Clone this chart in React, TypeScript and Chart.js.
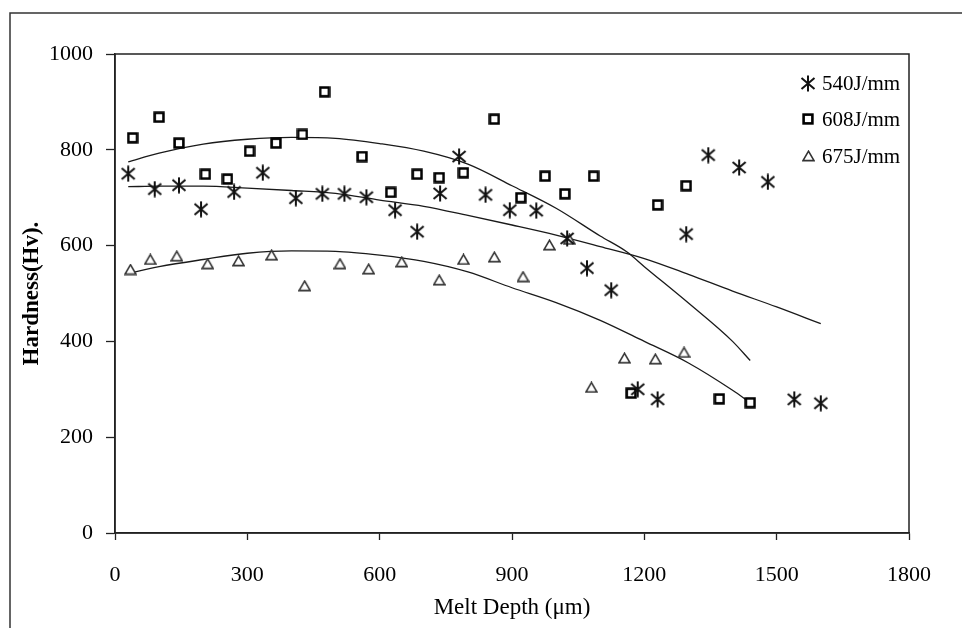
import React, { useEffect, useRef } from 'react';
import { Chart, registerables } from 'chart.js';

Chart.register(...registerables);

const seriesLabels = ['540J/mm', '608J/mm', '675J/mm'];

const depth540 = [30, 90, 145, 195, 270, 335, 410, 470, 520, 570, 635, 685, 737, 780, 840, 895, 955, 1025, 1070, 1125, 1185, 1230, 1295, 1345, 1415, 1480, 1540, 1600];
const hard540 = [750, 718, 726, 676, 712, 752, 699, 708, 708, 701, 674, 629, 709, 786, 706, 674, 673, 615, 553, 507, 300, 279, 624, 789, 763, 733, 279, 271];

const depth608 = [40, 100, 145, 205, 255, 305, 365, 425, 475, 560, 625, 685, 735, 790, 860, 920, 975, 1020, 1085, 1170, 1230, 1295, 1370, 1440];
const hard608 = [825, 868, 814, 749, 739, 797, 814, 832, 921, 786, 711, 749, 742, 752, 864, 700, 745, 708, 745, 292, 685, 725, 280, 272];

const depth675 = [35, 80, 140, 210, 280, 355, 430, 510, 575, 650, 735, 790, 860, 925, 985, 1030, 1080, 1155, 1225, 1290];
const hard675 = [550, 571, 578, 562, 568, 580, 516, 562, 551, 566, 528, 571, 576, 535, 601, 613, 304, 365, 363, 377];

// trend curves
const trendDepth540 = [30, 100, 200, 300, 400, 500, 600, 700, 800, 900, 1000, 1100, 1200, 1300, 1400, 1500, 1600];
const trendHard540 = [723, 724, 724, 720, 715, 709, 695, 682, 663, 643, 622, 598, 573, 540, 505, 472, 437];

const trendDepth608 = [30, 100, 200, 300, 400, 500, 600, 700, 800, 900, 1000, 1100, 1160, 1200, 1300, 1400, 1440];
const trendHard608 = [775, 793, 812, 822, 826, 824, 813, 797, 770, 725, 678, 620, 587, 556, 480, 400, 360];

const trendDepth675 = [30, 100, 200, 300, 400, 500, 600, 700, 800, 900, 1000, 1100, 1200, 1300, 1400, 1440];
const trendHard675 = [542, 556, 571, 584, 589, 588, 580, 567, 545, 512, 481, 444, 400, 355, 298, 272];

const xTicks = [0, 300, 600, 900, 1200, 1500, 1800];
const yTicks = [0, 200, 400, 600, 800, 1000];

const FONT = "'Liberation Serif', 'Times New Roman', serif";

function pts(xs: number[], ys: number[]) {
  return xs.map((x, i) => ({ x, y: ys[i] }));
}

function makeStar(): HTMLCanvasElement {
  const c = document.createElement('canvas');
  c.width = 16; c.height = 17;
  const g = c.getContext('2d')!;
  g.strokeStyle = '#111';
  g.lineWidth = 2;
  g.lineCap = 'butt';
  g.beginPath();
  g.moveTo(8, 0.5); g.lineTo(8, 16.5);
  g.moveTo(1.5, 3); g.lineTo(14.5, 14);
  g.moveTo(14.5, 3); g.lineTo(1.5, 14);
  g.stroke();
  return c;
}

function makeSquare(): HTMLCanvasElement {
  const c = document.createElement('canvas');
  c.width = 12; c.height = 12;
  const g = c.getContext('2d')!;
  g.fillStyle = '#fff';
  g.fillRect(1.5, 1.5, 9, 9);
  g.strokeStyle = '#000';
  g.lineWidth = 2.6;
  g.strokeRect(1.6, 1.6, 8.8, 8.8);
  return c;
}

function makeTriangle(): HTMLCanvasElement {
  const c = document.createElement('canvas');
  c.width = 13; c.height = 12;
  const g = c.getContext('2d')!;
  g.beginPath();
  g.moveTo(6.5, 1.2);
  g.lineTo(12, 10.6);
  g.lineTo(1, 10.6);
  g.closePath();
  g.fillStyle = '#fff';
  g.fill();
  g.strokeStyle = '#333';
  g.lineWidth = 1.6;
  g.stroke();
  return c;
}

export default function App() {
  const ref = useRef<HTMLCanvasElement | null>(null);

  useEffect(() => {
    document.body.style.margin = '0';
    const canvas = ref.current;
    if (!canvas) return;
    const markers = [makeStar(), makeSquare(), makeTriangle()];

    const framePlugin = {
      id: 'frame',
      beforeDraw(chart: any) {
        const ctx = chart.ctx;
        ctx.save();
        ctx.fillStyle = '#fff';
        ctx.fillRect(0, 0, chart.width, chart.height);
        ctx.strokeStyle = '#333';
        ctx.lineWidth = 1.5;
        ctx.beginPath();
        ctx.moveTo(10, chart.height + 2);
        ctx.lineTo(10, 13);
        ctx.lineTo(chart.width + 2, 13);
        ctx.stroke();
        ctx.restore();
      },
      afterDraw(chart: any) {
        const ctx = chart.ctx;
        const a = chart.chartArea;
        ctx.save();
        ctx.strokeStyle = '#222';
        ctx.lineWidth = 1.5;
        ctx.strokeRect(a.left, a.top, a.right - a.left, a.bottom - a.top);
        // legend
        const rows = [29, 65, 102];
        ctx.font = `21px ${FONT}`;
        ctx.fillStyle = '#000';
        ctx.textBaseline = 'middle';
        ctx.textAlign = 'left';
        seriesLabels.forEach((label, i) => {
          const m = markers[i];
          const cy = a.top + rows[i];
          const mx = a.right - 101;
          ctx.drawImage(m, Math.round(mx - m.width / 2), Math.round(cy - m.height / 2));
          ctx.fillText(label, a.right - 87, cy + 1);
        });
        ctx.restore();
      },
    };

    const pointSets = [
      pts(depth540, hard540),
      pts(depth608, hard608),
      pts(depth675, hard675),
    ];
    const trendSets = [
      pts(trendDepth540, trendHard540),
      pts(trendDepth608, trendHard608),
      pts(trendDepth675, trendHard675),
    ];

    const datasets: any[] = [];
    pointSets.forEach((d, i) => {
      datasets.push({
        label: seriesLabels[i],
        data: d,
        pointStyle: markers[i],
        pointRadius: 7,
        showLine: false,
      });
    });
    trendSets.forEach((d, i) => {
      datasets.push({
        label: seriesLabels[i] + ' trend',
        data: d,
        showLine: true,
        pointRadius: 0,
        borderColor: '#1a1a1a',
        borderWidth: 1.3,
        cubicInterpolationMode: 'monotone',
        fill: false,
      });
    });

    const plain = (v: any) => String(v);

    const chart = new Chart(canvas, {
      type: 'scatter',
      data: { datasets },
      options: {
        animation: false,
        responsive: false,
        maintainAspectRatio: false,
        layout: { padding: { top: 54, right: 53, left: 0, bottom: 0 } },
        plugins: {
          legend: { display: false },
          tooltip: { enabled: false },
        },
        scales: {
          x: {
            type: 'linear',
            min: 0,
            max: 1800,
            afterFit(scale: any) { scale.height = 95; },
            afterBuildTicks(scale: any) { scale.ticks = xTicks.map((v) => ({ value: v })); },
            ticks: {
              color: '#000',
              font: { family: FONT, size: 22 },
              padding: 22,
              maxRotation: 0,
              autoSkip: false,
              callback: plain,
            },
            grid: { drawOnChartArea: false, tickLength: 7, tickColor: '#222', tickWidth: 1.3 },
            border: { display: true, color: '#222', width: 1.5 },
            title: {
              display: true,
              text: 'Melt Depth (μm)',
              color: '#000',
              font: { family: FONT, size: 23 },
              padding: { top: 0, bottom: 6 },
            },
          },
          y: {
            type: 'linear',
            min: 0,
            max: 1000,
            afterFit(scale: any) { scale.width = 115; },
            afterBuildTicks(scale: any) { scale.ticks = yTicks.map((v) => ({ value: v })); },
            ticks: {
              color: '#000',
              font: { family: FONT, size: 22 },
              padding: 13,
              autoSkip: false,
              callback: plain,
            },
            grid: { drawOnChartArea: false, tickLength: 9, tickColor: '#222', tickWidth: 1.3 },
            border: { display: true, color: '#222', width: 1.5 },
            title: {
              display: true,
              text: 'Hardness(Hv).',
              color: '#000',
              font: { family: FONT, size: 23, weight: 'bold' },
              padding: { top: 18, bottom: 0 },
            },
          },
        },
      },
      plugins: [framePlugin],
    } as any);

    return () => chart.destroy();
  }, []);

  return (
    <div style={{ position: 'absolute', left: 0, top: 0, width: 962, height: 628 }}>
      <canvas ref={ref} width={962} height={628} style={{ display: 'block', width: 962, height: 628 }} />
    </div>
  );
}
